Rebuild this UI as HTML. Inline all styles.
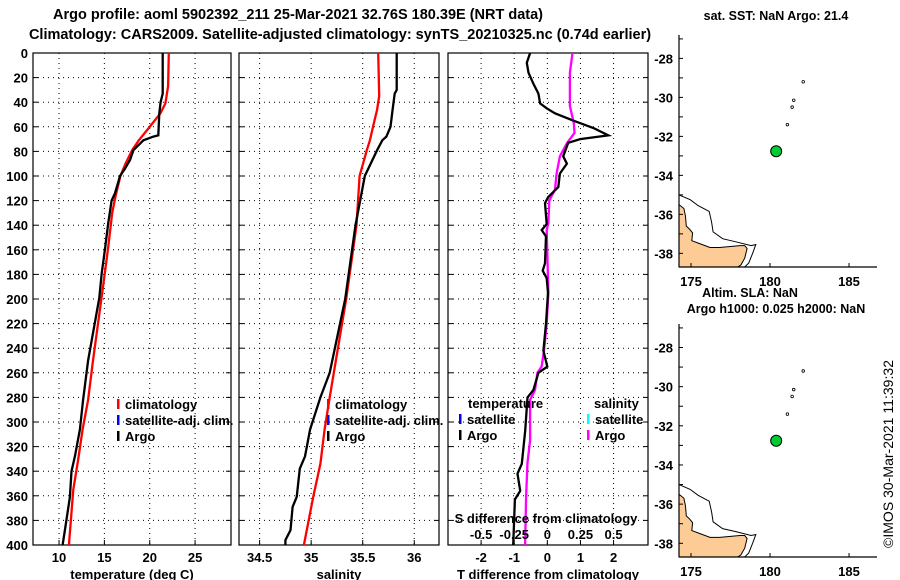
<!DOCTYPE html>
<html><head><meta charset="utf-8"><style>
body{margin:0;background:#fff}
svg{display:block;font-family:"Liberation Sans",sans-serif;font-weight:bold}
</style></head><body>
<svg id="c" width="900" height="580" viewBox="0 0 900 580">
<text x="298" y="19" font-size="14.5" text-anchor="middle">Argo profile: aoml 5902392_211 25-Mar-2021 32.76S 180.39E (NRT data)</text>
<text x="340" y="39" font-size="14.5" text-anchor="middle">Climatology: CARS2009. Satellite-adjusted climatology: synTS_20210325.nc (0.74d earlier)</text>
<text transform="translate(893,548) rotate(-90)" font-size="14" font-weight="normal" textLength="188">©IMOS 30-Mar-2021 11:39:32</text>
</svg>
<script>
// ---- data ----
const depthTicks=[0,20,40,60,80,100,120,140,160,180,200,220,240,260,280,300,320,340,360,380,400];
const tempTicks=[10,15,20,25];
const salTicks=[34.5,35,35.5,36];
const diffTicks=[-2,-1,0,1,2];
const sdiffTickLabels=["-0.5","-0.25","0","0.25","0.5"];
const sdiffTicks=[-0.5,-0.25,0,0.25,0.5];
const argoTempDepth=[0,33,40,49,67,68,71,79,87,94,100,114,120,138,160,179,199,250,282,306,328,340,361,388,400];
const argoTemp=[21.43,21.43,21.2,21.05,20.95,20.4,19.3,18.2,17.83,17.27,16.72,16.17,15.8,15.43,15.06,14.7,14.44,13.2,12.65,12.3,11.75,11.37,11.2,10.65,10.39];
const climTempDepth=[0,27,41,49,61,71,79,90,100,117,130,158,179,195,250,282,306,331,355,396,400];
const climTemp=[22.1,22.03,21.73,21.18,19.9,18.8,18.06,17.33,16.77,16.22,15.86,15.42,15.05,14.76,13.75,13.2,12.6,12.1,11.57,11.13,11.1];
const argoSalDepth=[0,30,33,46,60,68,71,79,100,140,200,260,280,306,328,338,361,369,388,396,400];
const argoSal=[35.83,35.83,35.81,35.79,35.77,35.73,35.69,35.64,35.52,35.43,35.33,35.18,35.09,34.99,34.94,34.89,34.86,34.82,34.80,34.75,34.75];
const climSalDepth=[0,35,46,60,71,79,100,140,200,260,280,306,334,361,400];
const climSal=[35.65,35.66,35.64,35.60,35.57,35.54,35.47,35.44,35.34,35.22,35.18,35.13,35.09,35.02,34.93];
const tDiffDepth=[0,8,16,25,33,41,45,49,55,61,67,70,73,84,90,98,109,117,122,139,144,149,171,177,183,195,220,242,255,260,274,280,307,334,342,356,363,400];
const tDiff=[-0.52,-0.62,-0.57,-0.42,-0.27,-0.22,-0.02,0.23,0.79,1.39,1.84,0.99,0.63,0.48,0.59,0.38,0.33,0.03,-0.07,-0.02,-0.17,-0.04,-0.07,-0.14,-0.02,0.02,-0.04,-0.12,0,-0.27,-0.42,-0.6,-0.67,-0.77,-0.9,-0.82,-0.98,-1.03];
const sDiffDepth=[0,16,43,57,65,73,84,98,111,120,138,144,195,220,242,255,260,274,282,315,333,361,400];
const sDiff=[0.19,0.17,0.17,0.2,0.205,0.15,0.095,0.07,0.058,0.015,0.008,-0.005,0.008,-0.005,-0.025,-0.043,-0.075,-0.093,-0.13,-0.13,-0.15,-0.16,-0.168];
const latTicks=[-28,-30,-32,-34,-36,-38];
const lonTicks=[175,180,185];
const argoLon=180.39, argoLat=-32.76;
const landLL=[[174.24,-35.5],[174.55,-35.7],[174.65,-36.1],[174.7,-36.6],[174.9,-36.75],[175.1,-36.95],[175.05,-37.35],[175.55,-37.5],[176.2,-37.7],[176.8,-37.7],[178.1,-37.6],[178.4,-37.6],[178.55,-37.75],[178.4,-38.25],[178.15,-38.6],[177.95,-38.7],[174.5,-38.7],[174.24,-38.7]];
const shelfLL=[[174.24,-35.0],[174.95,-35.25],[175.45,-35.55],[176.15,-35.85],[176.3,-36.4],[176.4,-36.9],[177.0,-37.25],[177.8,-37.4],[178.8,-37.6],[179.1,-37.55],[178.9,-38.0],[178.65,-38.5],[178.4,-38.7]];
const islandsLL=[[182.1,-29.2],[181.5,-30.15],[181.4,-30.5],[181.1,-31.4]];

const NS='http://www.w3.org/2000/svg', svg=document.getElementById('c');
function el(t,a,p){const e=document.createElementNS(NS,t);for(const k in a)e.setAttribute(k,a[k]);(p||svg).appendChild(e);return e;}
function txt(x,y,s,a,p){const e=el('text',Object.assign({x:x,y:y,'font-size':13},a||{}),p);e.textContent=s;return e;}
const yTop=53,yBot=545;
const yD=d=>yTop+(d-0)*(yBot-yTop)/400;

function panel(name,x0,x1,xmin,xmax,ticks,labels,xlabel,showY){
  const g=el('g',{});
  
  
  const sx=v=>x0+(v-xmin)*(x1-x0)/(xmax-xmin);
  depthTicks.forEach(d=>{
    if(d>0&&d<400){const l=el('line',{x1:x0,x2:x1,y1:yD(d),y2:yD(d),stroke:'#000','stroke-width':1,'stroke-dasharray':'1,4'},g);
    }
    el('line',{x1:x0,x2:x0+5,y1:yD(d),y2:yD(d),stroke:'#000'},g);
    el('line',{x1:x1-5,x2:x1,y1:yD(d),y2:yD(d),stroke:'#000'},g);
    if(showY){const t=txt(x0-5,yD(d)+5,String(d),{'text-anchor':'end'},g);
    }
  });
  ticks.forEach((v,i)=>{
    const l=el('line',{x1:sx(v),x2:sx(v),y1:yTop,y2:yBot,stroke:'#000','stroke-dasharray':'1,4'},g);
    
    el('line',{x1:sx(v),x2:sx(v),y1:yBot-5,y2:yBot,stroke:'#000'},g);
    const t=txt(sx(v),562,labels[i],{'text-anchor':'middle'},g);
    
  });
  const r=el('rect',{x:x0,y:yTop,width:x1-x0,height:yBot-yTop,fill:'none',stroke:'#000','stroke-width':1.2},g);
  
  const xl=txt((x0+x1)/2,579,xlabel,{'text-anchor':'middle'},g);
  
  return {g,sx};
}
function line(p,vals,deps,col,nm,sc){
  const pts=vals.map((v,i)=>p.sx(sc?v*sc:v).toFixed(1)+','+yD(deps[i]).toFixed(1)).join(' ');
  const l=el('polyline',{points:pts,fill:'none',stroke:col,'stroke-width':2.3},p.g);
  
}
function leg(p,x,y,col,s,nm){
  const g=el('g',{},p.g);
  
  el('rect',{x:x,y:y-10,width:2.5,height:10,fill:col},g);
  txt(x+8,y,s,{},g);
}
const p1=panel('temperature-panel',33,231,7.13,28.96,tempTicks,tempTicks.map(String),'temperature (deg C)',true);
line(p1,climTemp,climTempDepth,'#f00','climatology-temp-line');
line(p1,argoTemp,argoTempDepth,'#000','argo-temp-line');
leg(p1,117,409,'#f00','climatology','legend-climatology');
leg(p1,117,425,'#00f','satellite-adj. clim.','legend-satellite-adj');
leg(p1,117,441,'#000','Argo','legend-argo');

const p2=panel('salinity-panel',239,439,34.30,36.24,salTicks,["34.5","35","35.5","36"],'salinity',false);
line(p2,climSal,climSalDepth,'#f00','climatology-sal-line');
line(p2,argoSal,argoSalDepth,'#000','argo-sal-line');
leg(p2,327,409,'#f00','climatology','legend-climatology');
leg(p2,327,425,'#00f','satellite-adj. clim.','legend-satellite-adj');
leg(p2,327,441,'#000','Argo','legend-argo');

const p3=panel('difference-panel',448,648,-3.0,3.04,diffTicks,diffTicks.map(String),'T difference from climatology',false);
line(p3,sDiff,sDiffDepth,'#f0f','salinity-diff-line',4);
line(p3,tDiff,tDiffDepth,'#000','temp-diff-line');
txt(468,408,'temperature',{},p3.g);
txt(594,408,'salinity',{},p3.g);
leg(p3,459,424,'#00f','satellite','legend-temp-satellite');
leg(p3,459,440,'#000','Argo','legend-temp-argo');
leg(p3,587,424,'#0ff','satellite','legend-sal-satellite');
leg(p3,587,440,'#f0f','Argo','legend-sal-argo');
const st=txt(546,523,'S difference from climatology',{'text-anchor':'middle'},p3.g);

sdiffTicks.forEach((v,i)=>{const t=txt(p3.sx(v*4),539,sdiffTickLabels[i],{'text-anchor':'middle'},p3.g);
});

function map(name,top,bot){
  const g=el('g',{});
  
  const x0=679,x1=877,lonMin=174.24,lonMax=186.77,latMax=-26.8,latMin=-38.7;
  const sx=l=>x0+(l-lonMin)*(x1-x0)/(lonMax-lonMin);
  const sy=l=>top+(latMax-l)*(bot-top)/(latMax-latMin);
  const P=a=>a.map(p=>sx(p[0]).toFixed(1)+','+sy(p[1]).toFixed(1)).join(' ');
  const sh=el('polyline',{points:P(shelfLL),fill:'none',stroke:'#000','stroke-width':1},g);
  
  const ld=el('polygon',{points:P(landLL),fill:'#fdcb96',stroke:'#000','stroke-width':1},g);
  
  islandsLL.forEach(p=>{el('circle',{cx:sx(p[0]),cy:sy(p[1]),r:1.3,fill:'none',stroke:'#000','stroke-width':0.8},g);});
  el('line',{x1:x0,x2:x0,y1:top,y2:bot,stroke:'#000','stroke-width':1.2},g);
  el('line',{x1:x0,x2:x1,y1:bot,y2:bot,stroke:'#000','stroke-width':1.2},g);
  for(let l=-27;l>=-38;l--){el('line',{x1:x0,x2:x0+4,y1:sy(l),y2:sy(l),stroke:'#000'},g);}
  latTicks.forEach(l=>{const t=txt(x0-6,sy(l)+5,String(l),{'text-anchor':'end'},g);
    });
  lonTicks.forEach(l=>{el('line',{x1:sx(l),x2:sx(l),y1:bot-4,y2:bot,stroke:'#000'},g);
    const t=txt(sx(l),bot+19,String(l),{'text-anchor':'middle'},g);
    });
  const d=el('circle',{cx:sx(argoLon),cy:sy(argoLat),r:5.5,fill:'#0c3',stroke:'#000','stroke-width':1},g);
  
}
map('sst-map',35,267);
map('sla-map',324,557);
[[776,20,'sat. SST: NaN Argo: 21.4','sst-map-title'],[750,297,'Altim. SLA: NaN','sla-label'],[776,313,'Argo h1000: 0.025 h2000: NaN','height-label']].forEach(a=>{
  const t=txt(a[0],a[1],a[2],{'text-anchor':'middle','font-size':12.5});
  });
</script>
</body></html>
